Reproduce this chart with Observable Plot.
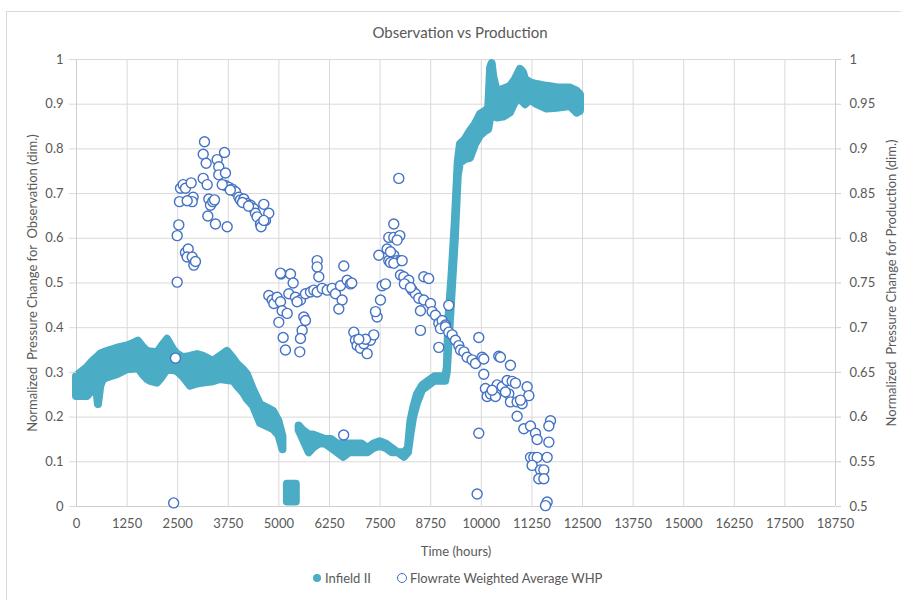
<!DOCTYPE html>
<html>
<head>
<meta charset="utf-8">
<script src="https://cdn.jsdelivr.net/npm/d3@7"></script>
<script src="https://cdn.jsdelivr.net/npm/@observablehq/plot@0.6"></script>
<style>
  html, body { margin: 0; padding: 0; background: #fff; overflow: hidden; }
  body { font-family: Lato, "Open Sans", sans-serif; color: #595959; }
  #wrap { position: relative; width: 901px; height: 600px; overflow: hidden; }
  #chart { position: absolute; left: 0; top: 0; }
  #frame { position: absolute; left: 6px; top: 11px; width: 900px; height: 600px; border: 1px solid #d9d9d9; pointer-events: none; }
  #title { position: absolute; left: 0; top: 22px; width: 920px; text-align: center; font-size: 15px; line-height: 20px; }
  .lg { position: absolute; font-size: 13px; line-height: 18px; top: 569px; white-space: nowrap; }
  .sw { position: absolute; box-sizing: border-box; border-radius: 50%; }
</style>
</head>
<body>
<div id="wrap">
  <div id="chart"></div>
  <div id="frame"></div>
  <div id="title">Observation vs Production</div>
  <div class="sw" style="left:313px;top:574px;width:8px;height:8px;background:#4BACC6;"></div>
  <div class="lg" style="left:325px;">Infield II</div>
  <div class="sw" style="left:397px;top:573px;width:10px;height:10px;border:1.5px solid #4472C4;background:#fff;"></div>
  <div class="lg" style="left:410px;">Flowrate Weighted Average WHP</div>
</div>
<script>
// ---- axis ticks ----
const xTicks = [0, 1250, 2500, 3750, 5000, 6250, 7500, 8750, 10000, 11250, 12500, 13750, 15000, 16250, 17500, 18750];
const leftTicks = [0, 0.1, 0.2, 0.3, 0.4, 0.5, 0.6, 0.7, 0.8, 0.9, 1];
const rightTicks = [0.5, 0.55, 0.6, 0.65, 0.7, 0.75, 0.8, 0.85, 0.9, 0.95, 1];

// ---- Infield II (left axis): band envelope (low / high of the dot cloud) ----
const seg1Hours = [0,270,420,510,543,600,667,800,914,1013,1260,1400,1531,1650,1754,1828,2000,2120,2248,2396,2495,2643,2816,2989,3137,3384,3557,3730,3878,3977,4125,4224,4372,4545,4700,4866,5000,5100];
const seg1Low   = [.246,.246,.261,.254,.228,.269,.284,.289,.292,.295,.306,.307,.309,.294,.284,.280,.276,.289,.306,.304,.302,.289,.269,.274,.276,.279,.284,.282,.280,.269,.254,.239,.224,.186,.179,.172,.159,.127];
const seg1High  = [.291,.311,.326,.333,.336,.341,.344,.348,.351,.354,.359,.364,.370,.356,.347,.346,.344,.359,.374,.351,.341,.333,.336,.340,.336,.325,.336,.347,.331,.318,.306,.295,.261,.228,.221,.213,.191,.156];

const seg2Hours = [5210, 5320, 5430];
const seg2Low   = [.01, .01, .01];
const seg2High  = [.05, .05, .05];

const seg3Hours = [5500,5600,5750,5850,6000,6150,6300,6450,6600,6750,6900,7050,7200,7350,7500,7650,7800,7950,8100,8200,8260,8330,8420,8550,8700,8850,9000,9120,9160,9200,9280,9360,9430,9485,9608,9732,9855,9979,10102,10184,10230,10268,10307,10391,10547,10720,10843,10967,11040,11090,11214,11380,11626,11873,12202,12367,12450];
const seg3Low   = [.17,.15,.12,.13,.14,.14,.13,.12,.11,.12,.12,.12,.12,.13,.135,.13,.12,.12,.11,.12,.16,.20,.23,.26,.27,.28,.28,.28,.30,.36,.48,.60,.74,.768,.776,.779,.809,.829,.839,.843,.869,.895,.873,.869,.871,.880,.904,.914,.904,.899,.909,.899,.889,.891,.895,.880,.884];
const seg3High  = [.18,.17,.16,.16,.155,.15,.15,.14,.14,.14,.14,.14,.13,.14,.145,.14,.13,.12,.12,.13,.19,.22,.25,.27,.28,.29,.29,.29,.31,.42,.52,.64,.77,.810,.821,.840,.855,.877,.884,.891,.981,.991,.961,.929,.933,.940,.955,.978,.971,.956,.948,.944,.940,.937,.936,.929,.921];

// ---- Flowrate Weighted Average WHP (right axis) ----
const whpHours = [
  2400,2445,2487,2487,2527,2544,2569,2635,2692,2833,2882,2858,2734,2692,2759,2734,2858,2898,2939,3130,3228,3162,3130,3203,3269,3310,3367,3409,3244,3433,3475,3515,3515,3656,3680,3722,3680,3763,3845,3927,4010,4050,4133,4215,4297,4380,4420,4462,4545,4560,4627,4668,4750,4627,3600,3800,4100,4250,
  4750,4833,4875,4957,5039,5080,4998,5105,5162,5055,5286,5352,5204,5245,5409,5533,5656,5780,5450,5615,5656,5574,5533,5516,5945,5945,5986,5862,5945,6068,6192,6315,6398,6521,6562,6480,6603,6686,6768,6800,6600,6850,6891,6933,7015,7097,7180,7262,7344,7140,6974,7427,7386,7509,7550,7633,7468,7715,7838,7921,8003,8003,8085,8208,8291,8373,8455,8579,8497,8579,8744,8785,8497,8867,8950,9032,9115,8991,8950,8700,7838,7715,7838,7987,7921,7962,7674,7756,7756,7838,8044,5039,8100,8250,
  9196,9115,9196,9280,9361,9444,9485,9570,9650,9773,9856,9938,10020,10061,10061,9938,9897,10431,10473,10720,10102,10144,10226,10350,10391,10515,10638,10762,10844,10679,10720,10885,11009,11133,11174,10967,10597,10267,10885,11050,11215,11339,11380,11710,11669,11669,11215,11297,11380,11256,11627,11462,11545,11421,11545,11627,11586
];
const whpValues = [
  0.504,0.666,0.751,0.803,0.815,0.841,0.856,0.860,0.856,0.862,0.846,0.841,0.842,0.784,0.788,0.779,0.779,0.770,0.774,0.867,0.860,0.908,0.894,0.884,0.844,0.837,0.841,0.843,0.825,0.816,0.888,0.880,0.871,0.896,0.873,0.813,0.859,0.857,0.855,0.852,0.846,0.843,0.844,0.839,0.837,0.833,0.828,0.824,0.816,0.813,0.838,0.820,0.828,0.820,0.860,0.854,0.840,0.836,
  0.736,0.731,0.727,0.734,0.729,0.719,0.706,0.689,0.675,0.760,0.760,0.750,0.716,0.738,0.734,0.731,0.738,0.740,0.729,0.712,0.708,0.697,0.688,0.673,0.775,0.768,0.757,0.742,0.740,0.744,0.742,0.744,0.738,0.747,0.731,0.721,0.769,0.753,0.749,0.750,0.580,0.695,0.686,0.680,0.677,0.682,0.671,0.686,0.692,0.687,0.687,0.712,0.718,0.731,0.747,0.749,0.781,0.775,0.781,0.775,0.775,0.759,0.757,0.753,0.742,0.738,0.733,0.757,0.719,0.731,0.727,0.718,0.697,0.714,0.705,0.708,0.703,0.699,0.678,0.755,0.816,0.801,0.801,0.803,0.798,0.867,0.788,0.785,0.773,0.772,0.775,0.761,0.749,0.745,
  0.725,0.701,0.695,0.692,0.686,0.680,0.675,0.673,0.667,0.664,0.660,0.689,0.667,0.665,0.648,0.582,0.514,0.668,0.667,0.658,0.632,0.623,0.626,0.623,0.636,0.634,0.641,0.640,0.638,0.626,0.617,0.617,0.615,0.634,0.624,0.619,0.628,0.630,0.601,0.587,0.590,0.582,0.575,0.596,0.590,0.572,0.555,0.555,0.555,0.546,0.555,0.541,0.541,0.531,0.531,0.505,0.501
];

// ---- build tables ----
const segments = [
  {id: "a", hours: seg1Hours, low: seg1Low, high: seg1High},
  {id: "b", hours: seg2Hours, low: seg2Low, high: seg2High},
  {id: "c", hours: seg3Hours, low: seg3Low, high: seg3High}
];
const infield = segments.flatMap(s => s.hours.map((h, i) => ({h, lo: s.low[i], hi: s.high[i], seg: s.id})));
const whp = whpHours.map((h, i) => ({h, v: whpValues[i]}));

// right axis (0.5..1) mapped onto the left scale (0..1)
const toLeft = v => (v - 0.5) * 2;
const fromLeft = d => String(+(d / 2 + 0.5).toFixed(2));

const teal = "#4BACC6", blue = "#4472C4", grid = "#d9d9d9", axisLine = "#cfcfcf", ink = "#595959";

const chart = Plot.plot({
  width: 901,
  height: 600,
  marginLeft: 76,
  marginRight: 66,
  marginTop: 59,
  marginBottom: 94,
  style: {fontFamily: "Lato, 'Open Sans', sans-serif", fontSize: "13px", color: ink, background: "transparent"},
  x: {domain: [0, 18750]},
  y: {domain: [0, 1]},
  marks: [
    Plot.gridX(xTicks, {stroke: grid, strokeOpacity: 1}),
    Plot.gridY(leftTicks, {stroke: grid, strokeOpacity: 1}),
    Plot.ruleY([0], {stroke: axisLine}),
    Plot.ruleX([0, 18750], {stroke: axisLine}),
    Plot.areaY(infield, {x: "h", y1: "lo", y2: "hi", z: "seg", fill: teal, stroke: teal, strokeWidth: 8, strokeLinejoin: "round"}),
    Plot.dot(whp, {x: "h", y: d => toLeft(d.v), r: 5, stroke: blue, fill: "white", strokeWidth: 1.4}),
    Plot.axisX(xTicks, {anchor: "bottom", tickSize: 0, tickPadding: 12, tickFormat: d => String(d),
      label: "Time (hours)", labelAnchor: "center", labelOffset: 49, labelArrow: "none"}),
    Plot.axisY(leftTicks, {anchor: "left", tickSize: 7, tickPadding: 6, stroke: grid, tickFormat: d => String(d),
      label: "Normalized  Pressure Change for  Observation (dim.)", labelAnchor: "center", labelOffset: 49, labelArrow: "none"}),
    Plot.axisY(rightTicks.map(toLeft), {anchor: "right", tickSize: 5, tickPadding: 9, stroke: axisLine, tickFormat: fromLeft,
      label: "Normalized  Pressure Change for Production (dim.)", labelAnchor: "center", labelOffset: 60, labelArrow: "none"})
  ]
});
document.getElementById("chart").appendChild(chart);
</script>
</body>
</html>
